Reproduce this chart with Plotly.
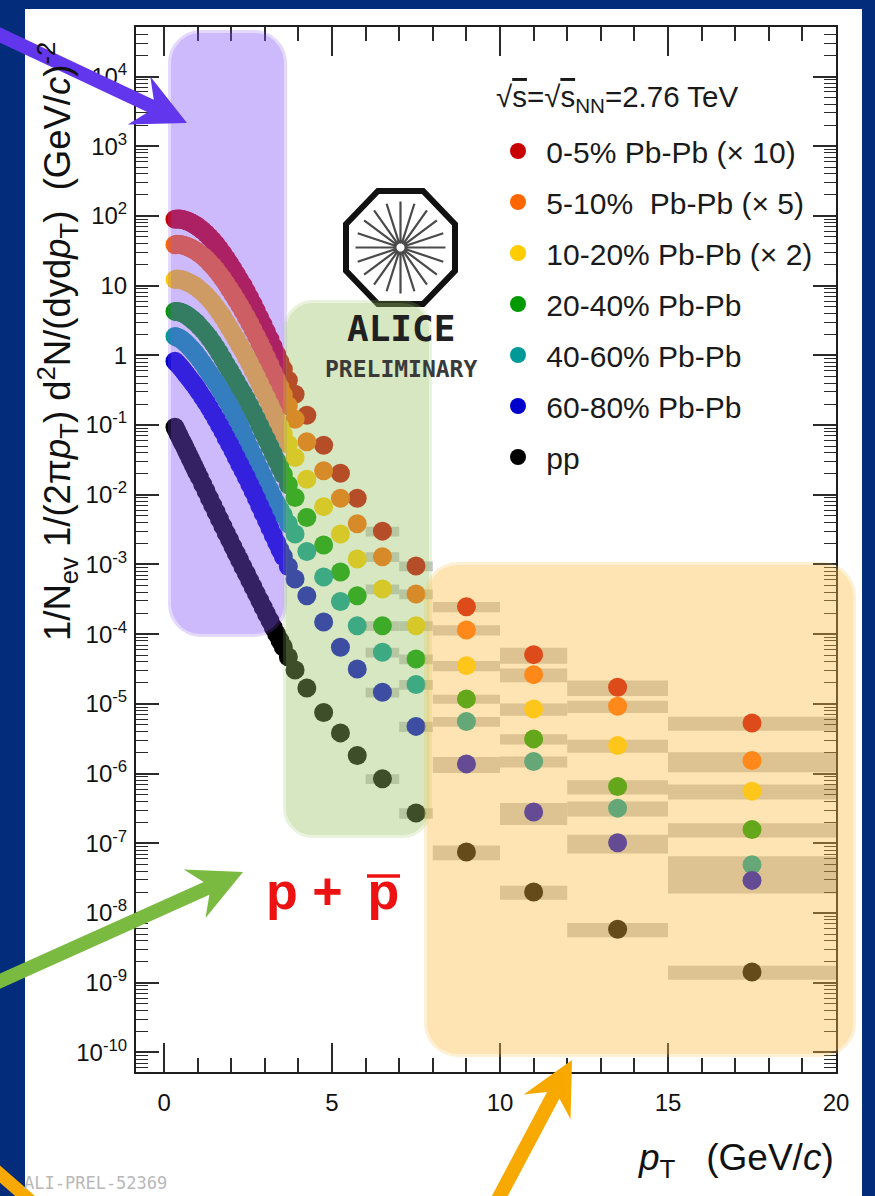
import math
import plotly.graph_objects as go

# ---------------------------------------------------------------- data
# pT bin edges (GeV/c)
PT_EDGES = [0.30, 0.35, 0.40, 0.45, 0.50, 0.55, 0.60, 0.65, 0.70, 0.75, 0.80, 0.85, 0.90, 0.95, 1.00,
            1.10, 1.20, 1.30, 1.40, 1.50, 1.60, 1.70, 1.80, 1.90, 2.00,
            2.10, 2.20, 2.30, 2.40, 2.50, 2.60, 2.70, 2.80, 2.90, 3.00,
            3.10, 3.20, 3.30, 3.40, 3.50, 3.60, 3.80, 4.00,
            4.50, 5.00, 5.50, 6.00, 7.00, 8.00, 10.0, 12.0, 15.0, 20.0]

# 1/Nev 1/(2 pi pT) d2N/(dy dpT) for p + pbar, one value per bin
YIELD_0_5 = [89.6, 90.5, 90.3, 90.0, 89.4, 88.2, 86.8, 85.1, 83.1, 81.0, 78.9, 76.6, 74.1, 71.7,
             67.1, 61.8, 56.0, 49.9, 44.4, 38.9, 33.6, 28.9, 24.5, 20.8,
             17.5, 14.6, 12.1, 10.1, 8.26, 6.71, 5.41, 4.34, 3.45, 2.74,
             2.17, 1.71, 1.33, 1.04, 0.812, 0.634, 0.438, 0.276,
             0.138, 0.0514, 0.0204, 8.94e-3, 3.01e-3, 9.49e-4, 2.48e-4, 5.09e-5, 1.73e-5, 5.34e-6]
YIELD_5_10 = [38.6, 39.1, 38.9, 38.8, 38.5, 38.0, 37.4, 36.7, 35.8, 34.9, 34.0, 33.0, 31.9, 30.9,
              28.9, 26.6, 24.1, 21.5, 19.1, 16.8, 14.5, 12.5, 10.6, 8.96,
              7.54, 6.29, 5.22, 4.34, 3.56, 2.89, 2.33, 1.87, 1.49, 1.18,
              0.935, 0.737, 0.573, 0.448, 0.350, 0.273, 0.189, 0.121,
              0.0576, 0.0221, 8.94e-3, 3.85e-3, 1.29e-3, 3.77e-4, 1.15e-4, 2.63e-5, 9.27e-6, 1.54e-6]
YIELD_10_20 = [12.2, 12.4, 12.3, 12.2, 12.1, 12.0, 11.7, 11.4, 11.1, 10.8, 10.5, 10.2, 9.80, 9.45,
               8.79, 8.05, 7.24, 6.41, 5.62, 4.85, 4.15, 3.54, 2.95, 2.46,
               2.05, 1.70, 1.40, 1.16, 0.942, 0.761, 0.613, 0.492, 0.391, 0.311,
               0.246, 0.195, 0.153, 0.120, 0.0946, 0.0742, 0.0530, 0.0342,
               0.0167, 6.76e-3, 2.73e-3, 1.20e-3, 4.44e-4, 1.32e-4, 3.54e-5, 8.48e-6, 2.53e-6, 5.61e-7]
YIELD_20_40 = [4.27, 4.24, 4.22, 4.19, 4.10, 4.01, 3.89, 3.77, 3.62, 3.47, 3.32, 3.17, 3.02, 2.88,
               2.62, 2.34, 2.05, 1.77, 1.52, 1.29, 1.08, 0.896, 0.735, 0.610,
               0.508, 0.420, 0.344, 0.286, 0.234, 0.190, 0.153, 0.123, 0.0978, 0.0777,
               0.0620, 0.0493, 0.0387, 0.0307, 0.0244, 0.0195, 0.0139, 9.15e-3,
               4.73e-3, 1.90e-3, 7.78e-4, 3.56e-4, 1.32e-4, 4.41e-5, 1.18e-5, 3.15e-6, 6.53e-7, 1.58e-7]
YIELD_40_60 = [1.87, 1.83, 1.79, 1.75, 1.68, 1.60, 1.53, 1.45, 1.37, 1.29, 1.22, 1.14, 1.07, 1.00,
               0.891, 0.768, 0.652, 0.554, 0.471, 0.400, 0.335, 0.280, 0.230, 0.190,
               0.156, 0.125, 0.0990, 0.0778, 0.0604, 0.0473, 0.0377, 0.0298, 0.0234, 0.0184,
               0.0146, 0.0117, 9.32e-3, 7.55e-3, 6.20e-3, 5.12e-3, 3.85e-3, 2.73e-3,
               1.54e-3, 6.60e-4, 2.94e-4, 1.32e-4, 5.50e-5, 1.90e-5, 5.58e-6, 1.49e-6, 3.20e-7, 4.94e-8]
YIELD_60_80 = [0.821, 0.776, 0.733, 0.693, 0.647, 0.603, 0.562, 0.524, 0.487, 0.452, 0.421, 0.392, 0.365, 0.338,
               0.297, 0.251, 0.212, 0.177, 0.147, 0.121, 0.0991, 0.0812, 0.0654, 0.0530,
               0.0428, 0.0343, 0.0274, 0.0222, 0.0178, 0.0141, 0.0112, 8.85e-3, 6.92e-3, 5.44e-3,
               4.27e-3, 3.35e-3, 2.63e-3, 2.07e-3, 1.63e-3, 1.30e-3, 9.33e-4, 6.18e-4,
               3.56e-4, 1.50e-4, 6.49e-5, 3.17e-5, 1.47e-5, 4.76e-6, 1.38e-6, 2.81e-7, 1.02e-7, 2.94e-8]
YIELD_PP = [0.0930, 0.0828, 0.0738, 0.0658, 0.0586, 0.0531, 0.0473, 0.0421, 0.0375, 0.0334, 0.0298, 0.0265, 0.0236, 0.0211,
            0.0179, 0.0142, 0.0113, 8.94e-3, 7.10e-3, 5.63e-3, 4.47e-3, 3.55e-3, 2.82e-3, 2.27e-3,
            1.80e-3, 1.44e-3, 1.16e-3, 9.24e-4, 7.41e-4, 5.92e-4, 4.75e-4, 3.79e-4, 3.04e-4, 2.43e-4,
            1.95e-4, 1.57e-4, 1.25e-4, 1.01e-4, 8.12e-5, 6.56e-5, 4.71e-5, 3.07e-5,
            1.69e-5, 7.51e-6, 3.84e-6, 1.82e-6, 8.42e-7, 2.72e-7, 7.51e-8, 2.01e-8, 5.84e-9, 1.43e-9]

# relative systematic uncertainties, bins from 3.8-4.0 GeV/c upwards
SYS_FIRST_BIN = 41
SYS_0_5 = [0.12, 0.12, 0.13, 0.14, 0.15, 0.16, 0.16, 0.17, 0.26, 0.25, 0.23]
SYS_5_10 = [0.12, 0.12, 0.13, 0.14, 0.15, 0.16, 0.16, 0.17, 0.22, 0.20, 0.32]
SYS_10_20 = [0.12, 0.12, 0.13, 0.14, 0.15, 0.16, 0.16, 0.17, 0.20, 0.21, 0.24]
SYS_20_40 = [0.12, 0.12, 0.13, 0.14, 0.15, 0.16, 0.16, 0.15, 0.17, 0.23, 0.23]
SYS_40_60 = [0.12, 0.12, 0.13, 0.14, 0.15, 0.16, 0.16, 0.16, 0.18, 0.24, 0.32]
SYS_60_80 = [0.12, 0.12, 0.13, 0.14, 0.15, 0.16, 0.17, 0.26, 0.35, 0.30, 0.35]
SYS_PP = [0.12, 0.12, 0.13, 0.14, 0.15, 0.16, 0.17, 0.24, 0.23, 0.23, 0.23]

LABELS = ["0-5% Pb-Pb (\u00d7 10)", "5-10%  Pb-Pb (\u00d7 5)", "10-20% Pb-Pb (\u00d7 2)",
          "20-40% Pb-Pb", "40-60% Pb-Pb", "60-80% Pb-Pb", "pp"]
COLORS = ["#c80000", "#ff6600", "#ffcc00", "#009900", "#009999", "#0000cc", "#000000"]
YIELDS = [YIELD_0_5, YIELD_5_10, YIELD_10_20, YIELD_20_40, YIELD_40_60, YIELD_60_80, YIELD_PP]
SYSTS = [SYS_0_5, SYS_5_10, SYS_10_20, SYS_20_40, SYS_40_60, SYS_60_80, SYS_PP]

X_TICKS = [0, 5, 10, 15, 20]
Y_EXPONENTS = list(range(-10, 5))

# ---------------------------------------------------------------- page geometry
W, H = 875, 1196
ML, MR, MT, MB = 136, 39, 27, 124
PW, PH = W - ML - MR, H - MT - MB
FONT = "Liberation Sans, Arial, Helvetica, sans-serif"
MONO = "DejaVu Sans Mono, monospace"


def px(x):
    return (x - ML) / PW


def py(y):
    return (H - MB - y) / PH


def poly_path(points):
    s = "M" + " L".join(f"{px(x):.5f},{py(y):.5f}" for x, y in points)
    return s + " Z"


def rounded_rect(x0, y0, x1, y1, r):
    k = 0.5523 * r

    def p(x, y):
        return f"{px(x):.5f},{py(y):.5f}"
    return (f"M{p(x0 + r, y0)} L{p(x1 - r, y0)} C{p(x1 - r + k, y0)} {p(x1, y0 + r - k)} {p(x1, y0 + r)} "
            f"L{p(x1, y1 - r)} C{p(x1, y1 - r + k)} {p(x1 - r + k, y1)} {p(x1 - r, y1)} "
            f"L{p(x0 + r, y1)} C{p(x0 + r - k, y1)} {p(x0, y1 - r + k)} {p(x0, y1 - r)} "
            f"L{p(x0, y0 + r)} C{p(x0, y0 + r - k)} {p(x0 + r - k, y0)} {p(x0 + r, y0)} Z")


def arrow_points(tail, tip, half_w, head_len, head_half, notch):
    dx, dy = tip[0] - tail[0], tip[1] - tail[1]
    n = math.hypot(dx, dy)
    ux, uy = dx / n, dy / n
    vx, vy = -uy, ux
    bx, by = tip[0] - head_len * ux, tip[1] - head_len * uy
    nx, ny = tip[0] - (head_len - notch) * ux, tip[1] - (head_len - notch) * uy
    return [(tail[0] + half_w * vx, tail[1] + half_w * vy),
            (nx + half_w * vx, ny + half_w * vy),
            (bx + head_half * vx, by + head_half * vy),
            tip,
            (bx - head_half * vx, by - head_half * vy),
            (nx - half_w * vx, ny - half_w * vy),
            (tail[0] - half_w * vx, tail[1] - half_w * vy)]


# ---------------------------------------------------------------- traces
centers = [(a + b) / 2 for a, b in zip(PT_EDGES[:-1], PT_EDGES[1:])]
widths = [b - a for a, b in zip(PT_EDGES[:-1], PT_EDGES[1:])]

fig = go.Figure()

# systematic uncertainty boxes
for vals, sys in zip(YIELDS, SYSTS):
    v = vals[SYS_FIRST_BIN:]
    fig.add_trace(go.Bar(
        x=centers[SYS_FIRST_BIN:], width=widths[SYS_FIRST_BIN:],
        base=[vi * (1 - s) for vi, s in zip(v, sys)],
        y=[vi * 2 * s for vi, s in zip(v, sys)],
        marker=dict(color="#c8c8c8", line=dict(width=0)),
        showlegend=False, hoverinfo="skip"))

# spectra
for name, color, vals in zip(LABELS, COLORS, YIELDS):
    fig.add_trace(go.Scatter(
        x=centers, y=vals, mode="markers", name="\u00a0" + name, legendgroup=name,
        marker=dict(size=19, color=color, line=dict(width=0))))

# ---------------------------------------------------------------- decorations
shapes = []
# white page
shapes.append(dict(type="rect", xref="paper", yref="paper", layer="below",
                   x0=px(25), x1=px(862), y0=py(9), y1=py(1220),
                   fillcolor="white", line=dict(width=0)))

# ALICE logo: octagon with spokes
cx, cy = 400.5, 247.5
ax_, ay_ = 54.5, 56.5
oct_pts = []
for i in range(8):
    a = math.radians(22.5 + 45 * i)
    oct_pts.append((cx + ax_ / math.cos(math.radians(22.5)) * math.cos(a),
                    cy + ay_ / math.cos(math.radians(22.5)) * math.sin(a)))
shapes.append(dict(type="path", xref="paper", yref="paper", layer="below",
                   path=poly_path(oct_pts), line=dict(color="#111111", width=6), fillcolor="rgba(0,0,0,0)"))
spokes = ""
for i in range(20):
    a = math.radians(18 * i)
    spokes += (f"M{px(cx + 4 * math.cos(a)):.5f},{py(cy + 4 * math.sin(a)):.5f} "
               f"L{px(cx + 45 * math.cos(a)):.5f},{py(cy + 46 * math.sin(a)):.5f} ")
shapes.append(dict(type="path", xref="paper", yref="paper", layer="below",
                   path=spokes, line=dict(color="#4a4a4a", width=2.2)))

# translucent highlight boxes
for (x0, y0, x1, y1, r, rgb) in [(168, 30, 287, 637, 33, "130,82,247"),
                                 (283, 300, 432, 838, 30, "153,195,100"),
                                 (424, 562, 856, 1057, 34, "252,187,65")]:
    shapes.append(dict(type="path", xref="paper", yref="paper", layer="above",
                       path=rounded_rect(x0 + 3, y0 + 3, x1 - 3, y1 - 3, r - 3),
                       fillcolor=f"rgba({rgb},0.40)", line=dict(width=0)))
    shapes.append(dict(type="path", xref="paper", yref="paper", layer="above",
                       path=rounded_rect(x0 + 1.5, y0 + 1.5, x1 - 1.5, y1 - 1.5, r - 1.5),
                       fillcolor="rgba(0,0,0,0)", line=dict(color=f"rgba({rgb},0.22)", width=3)))

# pointer arrows
for tail, tip, hw, col in [((-30, 21), (187, 123), 7, "#6236ec"),
                           ((-22, 991), (243, 872), 7, "#7aba40"),
                           ((478, 1237), (572, 1060), 7, "#f8a900"),
                           ((-30, 1148), (110, 1270), 6.5, "#f8a900")]:
    shapes.append(dict(type="path", xref="paper", yref="paper", layer="above",
                       path=poly_path(arrow_points(tail, tip, hw, 53, 26.5, 13)),
                       fillcolor=col, line=dict(width=0)))

# bar over the antiproton symbol
shapes.append(dict(type="line", xref="paper", yref="paper", layer="above",
                   x0=px(367), x1=px(400), y0=py(876), y1=py(876),
                   line=dict(color="#ee1111", width=3.5)))

annotations = [
    dict(text="1/N<sub>ev</sub> 1/(2\u03c0<i>p</i><sub>T</sub>) d<sup>2</sup>N/(dyd<i>p</i><sub>T</sub>)  (GeV/<i>c</i>)<sup>-2</sup>",
         x=px(57), y=py(342), xref="paper", yref="paper", textangle=-90,
         xanchor="center", yanchor="middle", showarrow=False,
         font=dict(family=FONT, size=36.5, color="#111111")),
    dict(text="<i>p</i><sub>T</sub>   (GeV/<i>c</i>)", x=px(836), y=py(1160), xref="paper", yref="paper",
         xanchor="right", yanchor="middle", showarrow=False,
         font=dict(family=FONT, size=37, color="#111111")),
    dict(text="\u221a<span style='text-decoration:overline'>s</span>=\u221a<span style='text-decoration:overline'>s</span><sub>NN</sub>=2.76 TeV",
         x=px(494), y=py(98), xref="paper", yref="paper",
         xanchor="left", yanchor="middle", showarrow=False,
         font=dict(family=FONT, size=29.5, color="#1a1a1a")),
    dict(text="<b>p + \u2009p</b>", x=px(264), y=py(891), xref="paper", yref="paper",
         xanchor="left", yanchor="middle", showarrow=False,
         font=dict(family=FONT, size=52, color="#ee1111")),
    dict(text="<b>ALICE</b>", x=px(401), y=py(328), xref="paper", yref="paper",
         xanchor="center", yanchor="middle", showarrow=False,
         font=dict(family=MONO, size=36, color="#202020")),
    dict(text="<b>PRELIMINARY</b>", x=px(401), y=py(369), xref="paper", yref="paper",
         xanchor="center", yanchor="middle", showarrow=False,
         font=dict(family=MONO, size=23, color="#3a3a3a")),
    dict(text="ALI-PREL-52369", x=px(22), y=py(1171), xref="paper", yref="paper",
         xanchor="left", yanchor="top", showarrow=False,
         font=dict(family=MONO, size=17, color="#b8b8b8")),
]

tick_style = dict(showgrid=False, zeroline=False, showline=True, linecolor="#1e1e1e", linewidth=2,
                  mirror="allticks", ticks="inside", tickcolor="#2a2a2a", tickwidth=1.6,
                  automargin=False)

fig.update_layout(
    width=W, height=H,
    margin=dict(l=ML, r=MR, t=MT, b=MB, pad=0),
    paper_bgcolor="#032d7b", plot_bgcolor="rgba(0,0,0,0)",
    template="none", barmode="overlay",
    font=dict(family=FONT, color="#111111"),
    xaxis=dict(range=[-0.835, 20.0], tickvals=X_TICKS, ticktext=[str(t) for t in X_TICKS],
               ticklen=29, tickfont=dict(size=24, family=FONT, color="#111111"), ticklabelstandoff=8,
               minor=dict(ticks="inside", ticklen=14, tickwidth=1.6, tickcolor="#2a2a2a", dtick=1, tick0=0),
               **tick_style),
    yaxis=dict(type="log", range=[-10.28, 4.71],
               tickvals=[10.0 ** k for k in Y_EXPONENTS],
               ticktext=[("1" if k == 0 else "10" if k == 1 else f"10<sup>{k}</sup>") for k in Y_EXPONENTS],
               ticklen=23, tickfont=dict(size=24, family=FONT, color="#111111"), ticklabelstandoff=2,
               minor=dict(ticks="inside", ticklen=12, tickwidth=1.4, tickcolor="#2a2a2a", dtick="D1"),
               **tick_style),
    legend=dict(x=px(498), y=py(125), xanchor="left", yanchor="top",
                bgcolor="rgba(0,0,0,0)", borderwidth=0, tracegroupgap=9,
                font=dict(family=FONT, size=30, color="#1a1a1a")),
    shapes=shapes, annotations=annotations,
    showlegend=True,
)

fig.write_html("out.html")
